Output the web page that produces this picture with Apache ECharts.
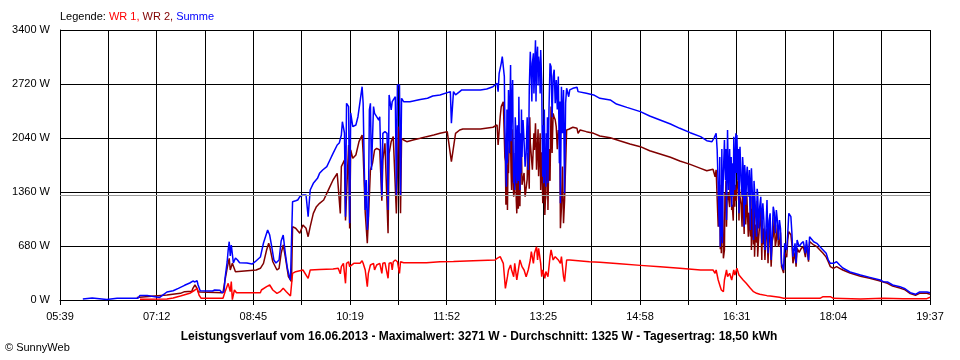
<!DOCTYPE html>
<html><head><meta charset="utf-8">
<script src="https://cdn.jsdelivr.net/npm/echarts@6/dist/echarts.min.js"></script>
<style>html,body{margin:0;padding:0;background:#fff}#c{width:960px;height:360px}</style>
</head><body><div id="c"></div>
<script>
// ---- data ----
const tickLabels = ["05:39","07:12","08:45","10:19","11:52","13:25","14:58","16:31","18:04","19:37"];
const yMax = 3400;
const yStep = 680;
const seriesNames = ["WR 1", "WR 2", "Summe"];
const reportDate = "16.06.2013";
const maxValue = 3271;
const averageValue = 1325;
const dailyYield = "18,50";

const summe = [["06:01",13],["06:10",25],["06:24",6],["06:34",21],["06:54",21],["06:56",57],["07:03",57],["07:04",38],["07:12",38],["07:15",32],["07:22",101],["07:28",117],["07:33",147],["07:39",185],["07:44",214],["07:47",239],["07:49",227],["07:51",243],["07:52",189],["07:54",117],["08:06",113],["08:08",126],["08:13",122],["08:15",92],["08:17",105],["08:18",277],["08:20",479],["08:21",630],["08:22",734],["08:23",554],["08:24",693],["08:25",714],["08:26",466],["08:28",529],["08:30",504],["08:32",470],["08:39",466],["08:44",453],["08:47",482],["08:52",541],["08:55",718],["08:59",881],["09:01",818],["09:03",667],["09:05",504],["09:07",466],["09:10",504],["09:12",743],["09:14",818],["09:16",592],["09:18",403],["09:20",290],["09:21",252],["09:22",240],["09:23",1238],["09:26",1250],["09:28",1259],["09:30",1301],["09:33",1322],["09:36",1322],["09:38",1049],["09:40",1385],["09:43",1469],["09:47",1532],["09:49",1595],["09:52",1637],["09:56",1679],["09:59",1763],["10:02",1847],["10:06",1952],["10:08",1977],["10:10",2078],["10:11",2245],["10:13",2103],["10:14",1049],["10:15",2477],["10:17",2435],["10:18",966],["10:19",2355],["10:21",2183],["10:24",2204],["10:26",2308],["10:28",2497],["10:30",2686],["10:31",2477],["10:32",1721],["10:33",1133],["10:34",1511],["10:35",881],["10:36",1049],["10:37",2393],["10:38",2477],["10:39",1637],["10:41",2435],["10:42",2351],["10:44",2308],["10:46",2267],["10:47",2308],["10:49",1301],["10:50",2099],["10:52",2120],["10:54",2099],["10:55",1133],["10:56",2582],["10:57",2603],["10:58",2393],["10:59",2497],["11:00",2497],["11:02",2560],["11:03",1322],["11:04",2707],["11:05",2686],["11:06",2707],["11:07",1322],["11:08",2540],["11:10",2497],["11:11",2477],["11:16",2497],["11:26",2526],["11:33",2540],["11:38",2569],["11:45",2582],["11:55",2624],["11:56",2225],["11:58",2624],["12:00",2582],["12:04",2624],["12:06",2645],["12:24",2645],["12:30",2657],["12:36",2686],["12:38",2707],["12:40",2729],["12:41",2624],["12:42",2855],["12:44",2980],["12:45",3064],["12:46",3043],["12:47",2813],["12:48",1931],["12:49",1427],["12:50",1721],["12:51",2645],["12:52",1847],["12:53",2959],["12:54",2351],["12:55",2771],["12:56",1469],["12:57",1385],["12:58",2141],["12:59",1469],["13:00",1763],["13:01",2560],["13:02",1385],["13:03",1595],["13:05",2267],["13:07",1679],["13:08",1847],["13:10",1637],["13:11",2645],["13:12",3127],["13:13",2771],["13:14",2980],["13:15",3106],["13:16",2813],["13:17",3271],["13:18",3022],["13:19",3190],["13:20",3064],["13:21",2897],["13:22",3148],["13:23",2729],["13:24",1553],["13:25",1469],["13:26",1805],["13:27",1427],["13:28",1637],["13:29",1469],["13:31",2980],["13:32",2939],["13:34",2813],["13:36",2477],["13:37",2771],["13:39",2813],["13:40",1721],["13:41",1217],["13:42",2686],["13:44",2645],["13:45",1343],["13:46",2477],["13:47",2666],["13:49",2560],["13:50",2645],["13:53",2666],["13:57",2679],["13:58",2624],["14:06",2603],["14:13",2582],["14:19",2540],["14:29",2519],["14:35",2468],["14:45",2426],["14:58",2372],["15:07",2317],["15:17",2267],["15:27",2216],["15:36",2162],["15:46",2107],["15:56",2057],["16:02",2006],["16:07",1994],["16:09",2040],["16:11",2099],["16:12",1889],["16:13",1427],["16:14",923],["16:15",671],["16:16",797],["16:17",714],["16:18",1595],["16:19",2015],["16:20",1511],["16:21",1007],["16:22",2141],["16:23",1385],["16:25",1301],["16:26",1175],["16:27",1721],["16:28",2057],["16:29",1385],["16:30",2099],["16:31",2078],["16:32",1511],["16:33",1091],["16:34",1931],["16:36",1301],["16:37",1679],["16:38",923],["16:39",1595],["16:40",1175],["16:41",1679],["16:43",1637],["16:44",881],["16:45",1658],["16:47",756],["16:48",1385],["16:50",797],["16:51",1343],["16:53",1175],["16:55",714],["16:56",1217],["16:58",630],["17:00",1259],["17:01",588],["17:03",1091],["17:04",504],["17:06",1175],["17:08",840],["17:09",1133],["17:11",756],["17:12",1007],["17:14",462],["17:16",378],["17:17",714],["17:19",630],["17:20",840],["17:21",1091],["17:23",1049],["17:24",840],["17:25",546],["17:27",714],["17:28",462],["17:29",756],["17:31",671],["17:33",714],["17:35",734],["17:37",588],["17:38",756],["17:40",504],["17:41",797],["17:45",734],["17:48",714],["17:51",671],["17:54",630],["17:57",588],["17:59",504],["18:01",462],["18:04",462],["18:07",482],["18:10",441],["18:13",403],["18:20",353],["18:30",315],["18:39",285],["18:49",252],["18:52",231],["18:56",227],["19:01",189],["19:08",168],["19:13",142],["19:18",92],["19:23",72],["19:27",101],["19:34",101],["19:37",92],
// dense fluctuation readings (half-minute)
["12:47:30",2200],["12:48:30",1600],["12:49:30",2400],["12:50:30",2100],["12:51:30",2300],["12:52:30",2500],["12:53:30",2000],["12:54:30",2600],["12:55:30",1900],["12:56:30",1700],["12:57:30",2300],["12:58:30",1600],["12:59:30",2200],["13:00:30",1500],["13:01:30",1900],["13:02:30",2100],["13:03:30",2400],["13:04",1800],["13:06",2000],["13:09",2300],["13:10:30",2000],["13:11:30",2900],["13:13:30",2500],["13:15:30",2600],["13:17:30",2500],["13:19:30",2700],["13:21:30",2600],["13:23:30",2000],["13:24:30",2200],["13:25:30",2400],["13:26:30",1600],["13:27:30",2100],["13:28:30",2300],["13:30",2400],["13:33",2300],["13:35",2900],["13:38",2400],["13:40:30",2500],["13:43",2100],
["16:14:30",1800],["16:15:30",1200],["16:16:30",1900],["16:17:30",1300],["16:19:30",1700],["16:20:30",1900],["16:21:30",1600],["16:22:30",1700],["16:24",1900],["16:25:30",1800],["16:26:30",1500],["16:27:30",1300],["16:28:30",1700],["16:29:30",1800],["16:30:30",1600],["16:31:30",1800],["16:32:30",1900],["16:33:30",1700],["16:35",1500],["16:36:30",1800],["16:37:30",1300],["16:38:30",1700],["16:39:30",1200],["16:40:30",1600],["16:42",1300],["16:43:30",1200],["16:44:30",1500],["16:46",1300],["16:47:30",1500],["16:49",1100],["16:50:30",1400],["16:52",900],["16:54",1300],["16:55:30",1100],["16:57",1000],["16:59",900],["17:02",1000],["17:05",800],["17:07",1100],["17:10",1000],["17:13",900]];

const wr2 = [["06:53",30],["07:22",63],["07:35",84],["07:39",105],["07:46",110],["07:47",147],["07:49",189],["07:51",147],["07:52",105],["07:54",100],["08:16",92],["08:18",252],["08:20",399],["08:22",525],["08:23",378],["08:25",462],["08:28",357],["08:29",378],["08:48",378],["08:52",399],["08:55",462],["08:58",630],["09:00",714],["09:01",671],["09:04",482],["09:08",378],["09:10",399],["09:12",588],["09:14",693],["09:16",545],["09:19",294],["09:22",231],["09:23",923],["09:26",903],["09:30",840],["09:33",945],["09:36",903],["09:38",797],["09:40",923],["09:43",1091],["09:46",1175],["09:49",1217],["09:53",1259],["09:56",1343],["09:59",1427],["10:02",1511],["10:06",1595],["10:07",1620],["10:09",1091],["10:10",1679],["10:13",1763],["10:14",1000],["10:17",1952],["10:18",900],["10:19",1889],["10:21",1784],["10:24",1826],["10:25",1847],["10:27",1994],["10:30",2078],["10:31",1847],["10:33",1100],["10:35",714],["10:36",1000],["10:38",1637],["10:40",1721],["10:42",1889],["10:44",1910],["10:47",1889],["10:49",1250],["10:50",1763],["10:52",1973],["10:55",840],["10:56",1847],["10:58",1994],["11:00",2057],["11:03",1091],["11:05",2183],["11:06",2057],["11:07",1091],["11:08",2036],["11:10",2015],["11:13",1994],["11:19",2015],["11:26",2036],["11:32",2057],["11:39",2078],["11:45",2099],["11:52",2120],["11:56",1742],["12:00",2099],["12:04",2141],["12:07",2153],["12:24",2153],["12:36",2175],["12:40",2204],["12:41",1952],["12:43",2308],["12:44",2435],["12:46",2497],["12:48",1750],["12:50",1133],["12:51",1595],["12:53",2000],["12:54",1385],["12:56",1301],["12:57",1340],["12:59",1091],["13:01",1640],["13:02",1180],["13:05",1460],["13:07",1301],["13:09",1520],["13:11",1400],["13:12",1980],["13:14",1640],["13:16",1890],["13:17",2225],["13:18",1640],["13:20",1560],["13:22",1385],["13:23",1860],["13:24",1217],["13:26",1070],["13:27",1301],["13:29",1133],["13:31",1500],["13:32",2435],["13:34",2350],["13:36",2270],["13:37",2180],["13:39",2141],["13:41",903],["13:42",1170],["13:43",1680],["13:44",966],["13:45",1250],["13:47",2141],["13:49",2150],["13:50",2162],["13:53",2175],["13:57",2162],["13:58",2099],["14:00",2141],["14:06",2120],["14:13",2099],["14:19",2065],["14:29",2044],["14:38",2006],["14:48",1964],["14:58",1931],["15:07",1880],["15:17",1839],["15:27",1797],["15:36",1750],["15:46",1708],["15:56",1658],["16:02",1628],["16:08",1646],["16:10",1553],["16:11",1640],["16:13",923],["16:15",640],["16:16",588],["16:18",525],["16:19",630],["16:20",1175],["16:21",923],["16:22",1300],["16:24",1170],["16:26",1133],["16:28",1427],["16:29",1175],["16:31",1385],["16:33",1000],["16:34",1300],["16:36",923],["16:37",1133],["16:38",830],["16:40",1100],["16:42",797],["16:43",1007],["16:44",800],["16:45",630],["16:47",700],["16:48",546],["16:50",720],["16:51",546],["16:53",756],["16:55",504],["16:56",700],["16:58",504],["17:00",900],["17:01",462],["17:03",756],["17:04",420],["17:06",800],["17:08",671],["17:09",756],["17:11",671],["17:12",714],["17:14",420],["17:16",340],["17:17",600],["17:19",540],["17:20",760],["17:21",860],["17:23",820],["17:24",700],["17:25",462],["17:27",600],["17:28",420],["17:29",650],["17:31",600],["17:33",650],["17:35",671],["17:37",540],["17:38",700],["17:40",482],["17:41",734],["17:45",693],["17:48",671],["17:51",630],["17:54",588],["17:57",540],["17:59",482],["18:01",420],["18:04",399],["18:07",420],["18:10",399],["18:13",378],["18:20",340],["18:30",300],["18:39",273],["18:49",239],["18:56",210],["19:01",175],["19:08",150],["19:13",128],["19:18",80],["19:23",60],["19:27",84],["19:34",84],["19:37",72],
// dense fluctuation readings (half-minute)
["12:47:30",1800],["12:48:30",1200],["12:49:30",1950],["12:50:30",1700],["12:51:30",1900],["12:52:30",2050],["12:53:30",1600],["12:54:30",2150],["12:55:30",1500],["12:56:30",1350],["12:57:30",1850],["12:58:30",1250],["12:59:30",1800],["13:00:30",1150],["13:01:30",1500],["13:02:30",1700],["13:03:30",1950],["13:04",1450],["13:06",1600],["13:09:30",1850],["13:10:30",1600],["13:11:30",2300],["13:13:30",2000],["13:15:30",2100],["13:17:30",2000],["13:19:30",2150],["13:21:30",2100],["13:23:30",1600],["13:24:30",1750],["13:25:30",1900],["13:26:30",1250],["13:27:30",1650],["13:28:30",1850],["13:30",1900],["13:33",1850],["13:35",2300],["13:38",1900],["13:40:30",2000],["13:43:30",1700],
["16:14:30",1450],["16:15:30",900],["16:16:30",1500],["16:17:30",1000],["16:19:30",1350],["16:20:30",1500],["16:21:30",1250],["16:22:30",1350],["16:24:30",1500],["16:25:30",1450],["16:26:30",1200],["16:27:30",1000],["16:28:30",1350],["16:29:30",1450],["16:30:30",1250],["16:31:30",1450],["16:32:30",1550],["16:33:30",1400],["16:35",1200],["16:36:30",1500],["16:37:30",1050],["16:38:30",1400],["16:39:30",950],["16:40:30",1350],["16:42:30",1100],["16:43:30",1000],["16:44:30",1300],["16:46",1150],["16:47:30",1350],["16:49",950],["16:50:30",1250],["16:52",780],["16:54",1150],["16:55:30",1000],["16:57",900],["16:59",830],["17:02",930],["17:05",740],["17:07",1040],["17:10",950],["17:13",850]];

const wr1 = [["06:56",8],["07:22",13],["07:28",25],["07:35",50],["07:44",84],["07:49",126],["07:51",147],["07:53",60],["07:55",21],["08:16",21],["08:18",105],["08:21",210],["08:23",105],["08:24",231],["08:25",5],["08:27",126],["08:29",92],["08:52",92],["08:53",126],["08:58",168],["09:01",189],["09:04",126],["09:08",84],["09:11",105],["09:14",147],["09:17",105],["09:21",50],["09:22",63],["09:23",336],["09:26",357],["09:33",378],["09:38",273],["09:40",378],["09:49",385],["10:02",390],["10:07",399],["10:09",330],["10:10",420],["10:12",462],["10:14",210],["10:15",462],["10:17",482],["10:18",420],["10:22",462],["10:28",462],["10:30",495],["10:31",462],["10:33",378],["10:35",168],["10:36",336],["10:38",441],["10:41",462],["10:42",378],["10:44",441],["10:47",462],["10:49",336],["10:50",462],["10:52",470],["10:55",273],["10:56",462],["10:58",470],["10:59",378],["11:00",482],["11:02",504],["11:04",482],["11:06",336],["11:07",482],["11:10",470],["11:32",470],["11:45",482],["11:58",485],["12:17",495],["12:38",504],["12:40",525],["12:43",546],["12:44",567],["12:46",462],["12:48",147],["12:50",294],["12:51",378],["12:53",441],["12:54",378],["12:56",294],["12:57",462],["12:59",252],["13:02",504],["13:04",420],["13:06",378],["13:08",294],["13:10",378],["13:12",504],["13:13",609],["13:15",462],["13:16",588],["13:18",671],["13:19",504],["13:20",651],["13:22",462],["13:23",294],["13:24",378],["13:26",273],["13:27",357],["13:29",294],["13:31",546],["13:32",630],["13:34",504],["13:36",546],["13:37",525],["13:39",504],["13:41",462],["13:42",546],["13:44",294],["13:45",231],["13:47",504],["13:50",504],["14:09",483],["14:19",474],["14:38",455],["14:58",436],["15:17",418],["15:36",399],["15:56",378],["16:08",378],["16:10",336],["16:11",378],["16:13",252],["16:15",168],["16:16",126],["16:18",105],["16:19",252],["16:21",378],["16:22",294],["16:24",336],["16:26",252],["16:28",378],["16:29",315],["16:31",399],["16:33",315],["16:34",294],["16:37",252],["16:40",210],["16:44",147],["16:47",105],["16:50",84],["16:53",72],["17:00",55],["17:03",50],["17:12",34],["17:16",21],["17:51",21],["17:54",42],["18:01",42],["18:04",21],["18:30",13],["18:52",21],["19:11",17],["19:34",17],["19:35",42],["19:37",34]];

// ---- helpers ----
function toMin(s){ const p = s.split(':'); return (+p[0])*60 + (+p[1]) + (p[2] ? (+p[2])/60 : 0); }
const startMin = toMin(tickLabels[0]);
const endMin = toMin(tickLabels[tickLabels.length-1]);
const divisions = (tickLabels.length - 1) * 2;
const minPerDiv = (endMin - startMin) / divisions;
function toX(s){ return (toMin(s) - startMin) / minPerDiv; }
function conv(arr){ return arr.map(d => [toX(d[0]), d[1]]).sort((a, b) => a[0] - b[0]); }

const FONT = 'Liberation Sans, Arial, sans-serif';
const colors = { wr1: '#ff0000', wr2: '#800000', summe: '#0000ff' };

const chart = echarts.init(document.getElementById('c'), null, {renderer: 'canvas'});
const option = {
  animation: false,
  backgroundColor: '#ffffff',
  grid: { left: 60, right: 30, top: 30, bottom: 60, containLabel: false },
  xAxis: {
    type: 'value', min: 0, max: divisions, interval: 1,
    axisLine: { show: true, lineStyle: { color: '#000', width: 1 } },
    axisTick: { show: true, length: 5, lineStyle: { color: '#000', width: 1 } },
    splitLine: { show: true, lineStyle: { color: '#000', width: 1 } },
    axisLabel: {
      margin: 11, color: '#000', fontFamily: FONT, fontSize: 11,
      showMinLabel: true, showMaxLabel: true,
      formatter: v => { const r = Math.round(v); return r % 2 === 0 ? tickLabels[r/2] : ''; }
    }
  },
  yAxis: {
    type: 'value', min: 0, max: yMax, interval: yStep,
    axisLine: { show: true, lineStyle: { color: '#000', width: 1 } },
    axisTick: { show: false },
    splitLine: { show: true, lineStyle: { color: '#000', width: 1 } },
    axisLabel: { margin: 10, color: '#000', fontFamily: FONT, fontSize: 11, formatter: v => v + ' W' }
  },
  series: [
    { type: 'line', data: [], silent: true,
      markLine: { silent: true, symbol: ['none','none'], label: { show: false },
        lineStyle: { color: '#999999', type: 'solid', width: 1 },
        emphasis: { disabled: true },
        data: [ { yAxis: averageValue } ] } },
    { name: seriesNames[1], type: 'line', data: conv(wr2), showSymbol: false, symbol: 'none', silent: true,
      lineStyle: { color: colors.wr2, width: 1.5 }, itemStyle: { color: colors.wr2 } },
    { name: seriesNames[2], type: 'line', data: conv(summe), showSymbol: false, symbol: 'none', silent: true,
      lineStyle: { color: colors.summe, width: 1.5 }, itemStyle: { color: colors.summe } },
    { name: seriesNames[0], type: 'line', data: conv(wr1), showSymbol: false, symbol: 'none', silent: true,
      lineStyle: { color: colors.wr1, width: 1.5 }, itemStyle: { color: colors.wr1 } }
  ],
  graphic: [
    { type: 'text', left: 60, top: 11, silent: true,
      style: {
        text: '{k|Legende: }{a|' + seriesNames[0] + ', }{b|' + seriesNames[1] + ', }{c|' + seriesNames[2] + '}',
        font: '11px ' + FONT,
        rich: {
          k: { fill: '#000', font: '11px ' + FONT },
          a: { fill: colors.wr1, font: '11px ' + FONT },
          b: { fill: colors.wr2, font: '11px ' + FONT },
          c: { fill: colors.summe, font: '11px ' + FONT }
        }
      } },
    { type: 'text', x: 479, y: 337, silent: true,
      style: {
        text: 'Leistungsverlauf vom ' + reportDate + ' - Maximalwert: ' + maxValue + ' W - Durchschnitt: ' + averageValue + ' W - Tagesertrag: ' + dailyYield + ' kWh',
        font: 'bold 12px ' + FONT, fill: '#000', align: 'center', verticalAlign: 'middle'
      } },
    { type: 'text', x: 5, y: 348, silent: true,
      style: { text: '© SunnyWeb', font: '11px ' + FONT, fill: '#000', align: 'left', verticalAlign: 'middle' } }
  ]
};
chart.setOption(option);
</script>
</body></html>
